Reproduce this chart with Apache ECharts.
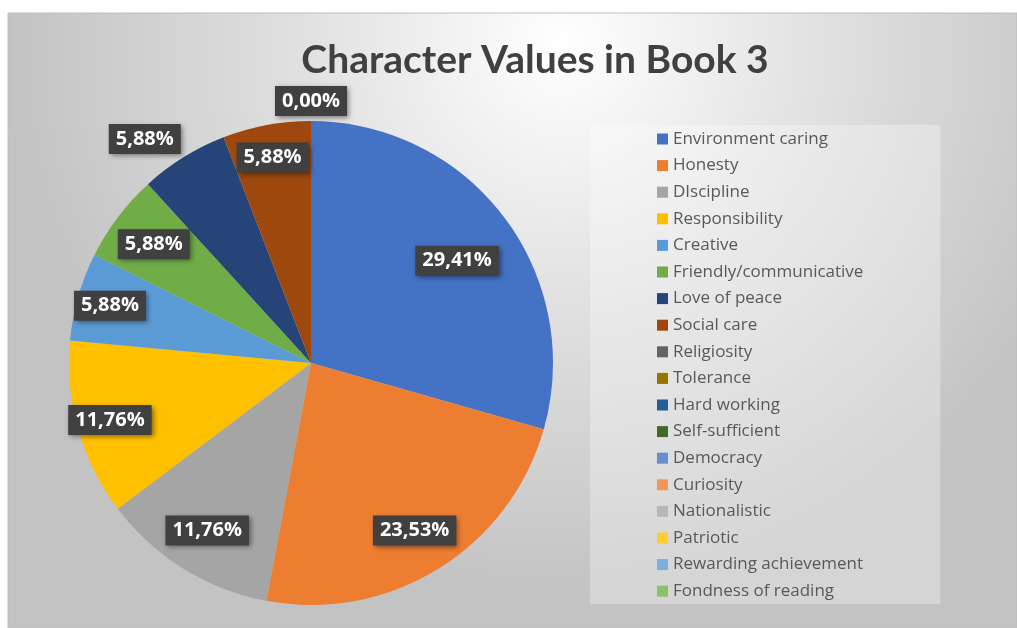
<!DOCTYPE html>
<html>
<head>
<meta charset="utf-8">
<script src="https://cdn.jsdelivr.net/npm/echarts@6/dist/echarts.min.js"></script>
<style>
html,body{margin:0;padding:0;background:#ffffff;}
#chart{width:1017px;height:628px;}
</style>
</head>
<body>
<div id="chart"></div>
<script>
const titleText = 'Character Values in Book 3';
const categories = ['Environment caring','Honesty','DIscipline','Responsibility','Creative','Friendly/communicative','Love of peace','Social care','Religiosity','Tolerance','Hard working','Self-sufficient','Democracy','Curiosity','Nationalistic','Patriotic','Rewarding achievement','Fondness of reading'];
const values = [29.41, 23.53, 11.76, 11.76, 5.88, 5.88, 5.88, 5.88, 0, 0, 0, 0, 0, 0, 0, 0, 0, 0];
const colors = ['#4472C4','#ED7D31','#A5A5A5','#FFC000','#5B9BD5','#70AD47','#264478','#9E480E','#636363','#997300','#255E91','#43682B','#698ED0','#F1975A','#B7B7B7','#FFCD33','#7CAFDD','#8CC168'];
// which slices carry a data label, grouped by how far from the centre Excel put them
const labelGroupA = [0];
const labelGroupB = [1, 2, 5];
const labelGroupC = [3, 4, 7];
const labelGroupOut = [6];
const labelGroupZero = [8];

const fmt = p => p.value.toFixed(2).replace('.', ',') + '%';
const labelStyle = {
  color: '#ffffff', fontFamily: 'Open Sans', fontWeight: 'bold', fontSize: 20,
  backgroundColor: '#404040', padding: [5, 7, 5, 7],
  shadowColor: 'rgba(0,0,0,0.45)', shadowBlur: 5, shadowOffsetX: 2, shadowOffsetY: 2,
  formatter: fmt
};
function overlay(idxList, radius, layout) {
  const s = {
    type: 'pie', center: [311, 363], radius: radius, startAngle: 90, clockwise: true,
    silent: true, legendHoverLink: false, avoidLabelOverlap: false,
    itemStyle: { color: 'rgba(0,0,0,0)' },
    emphasis: { disabled: true },
    labelLine: { show: false },
    label: Object.assign({ position: 'inside' }, labelStyle),
    data: categories.map((c, i) => ({ name: c, value: values[i], label: { show: idxList.indexOf(i) >= 0 } }))
  };
  if (layout) s.labelLayout = layout;
  return s;
}

const chart = echarts.init(document.getElementById('chart'), null, { renderer: 'canvas' });
chart.setOption({
  animation: false,
  graphic: [{
    type: 'rect', z: -10, silent: true,
    shape: { x: 8, y: 13, width: 1009, height: 615 },
    style: {
      fill: { type: 'radial', x: 0.55, y: 0.05, r: 0.9, global: false,
        colorStops: [{ offset: 0, color: '#ffffff' }, { offset: 0.45, color: '#e2e2e2' }, { offset: 1, color: '#c3c3c3' }] },
      stroke: '#bdbdbd', lineWidth: 1
    }
  }],
  title: {
    text: titleText, left: 530, top: 36, textAlign: 'center',
    textStyle: { fontFamily: 'Lato', fontWeight: 'bold', fontSize: 39, color: '#404040' }
  },
  legend: {
    orient: 'vertical', left: 590, top: 125,
    backgroundColor: 'rgba(255,255,255,0.3)',
    padding: [4, 77, 3, 67],
    icon: 'rect', itemWidth: 11, itemHeight: 11, itemGap: 6.6,
    textStyle: { fontFamily: 'Open Sans', fontSize: 17, color: '#595959', lineHeight: 20 },
    data: categories
  },
  series: [
    {
      type: 'pie', center: [311, 363], radius: 242, startAngle: 90, clockwise: true,
      label: { show: false }, labelLine: { show: false },
      itemStyle: { borderWidth: 0 },
      data: categories.map((c, i) => ({ name: c, value: values[i], itemStyle: { color: colors[i] } }))
    },
    overlay(labelGroupA, [118, 242], { dy: 8 }),
    overlay(labelGroupB, [146, 242]),
    overlay(labelGroupC, [170, 242]),
    overlay(labelGroupOut, [242, 300], { dx: -22, dy: 9 }),
    overlay(labelGroupZero, [242, 276])
  ]
});
</script>
</body>
</html>
